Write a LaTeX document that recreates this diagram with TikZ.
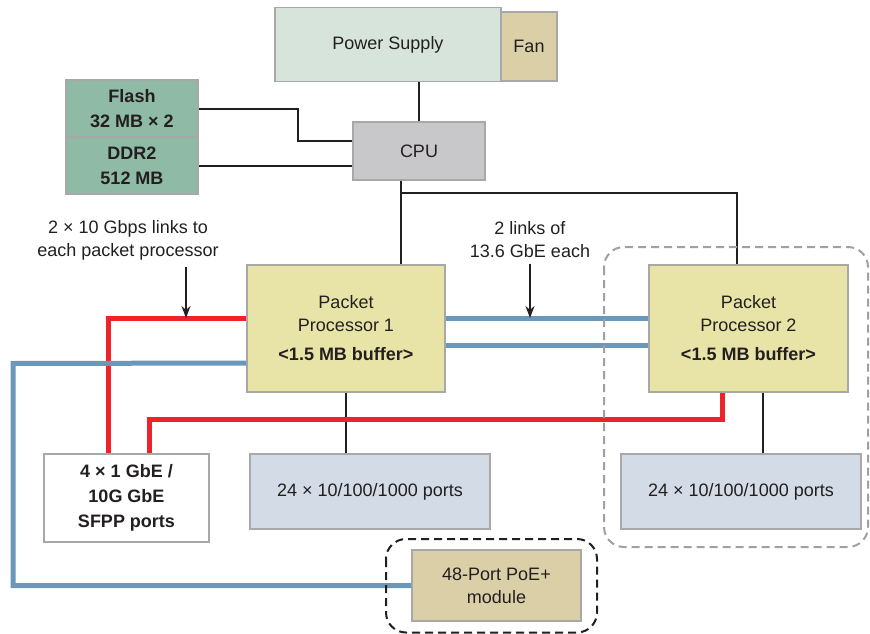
\documentclass[tikz,border=0pt]{standalone}
\usepackage{fontspec}
\setmainfont{Liberation Sans}
\usetikzlibrary{arrows.meta,calc}

\definecolor{txt}{RGB}{35,31,32}
\definecolor{edge}{RGB}{168,168,168}
\definecolor{psufill}{RGB}{215,228,220}
\definecolor{fanfill}{RGB}{219,207,168}
\definecolor{memfill}{RGB}{143,186,166}
\definecolor{cpufill}{RGB}{200,200,202}
\definecolor{ppfill}{RGB}{232,228,168}
\definecolor{portfill}{RGB}{210,219,230}
\definecolor{linkblue}{RGB}{106,151,186}
\definecolor{linkred}{RGB}{238,34,41}
\definecolor{grpgray}{RGB}{160,160,160}

\tikzset{
  box/.style={draw=edge, line width=1.5pt, inner sep=0pt, align=center, text=txt,
    font=\fontsize{18}{23}\selectfont},
  wire/.style={draw=txt, line width=2pt},
  bluelink/.style={draw=linkblue, line width=5pt},
  redlink/.style={draw=linkred, line width=5pt},
  note/.style={align=center, text=txt, font=\fontsize{18}{23}\selectfont},
  grp/.style={dash pattern=on 8pt off 5pt, line width=2pt, rounded corners=20pt},
  pointer/.style={draw=txt, line width=1.5pt, -{Stealth[length=12pt,width=9pt]}}
}

\begin{document}
\begin{tikzpicture}[x=1pt,y=-1pt]
\useasboundingbox (0,0) rectangle (870,634);

\node[box, fill=psufill, minimum width=226pt, minimum height=74pt] (psu) at (388,44.5) {Power Supply};
\node[box, fill=fanfill, minimum width=56pt, minimum height=69pt] (fan) at (529,46.5) {Fan};
\node[box, fill=memfill, minimum width=132pt, minimum height=57pt] (flash) at (132,108.5) {\bfseries Flash\\[2pt]\bfseries 32 MB × 2};
\node[box, fill=memfill, minimum width=132pt, minimum height=57pt] (ddr) at (132,165.5) {\bfseries DDR2\\[2pt]\bfseries 512 MB};
\node[box, fill=cpufill, minimum width=132pt, minimum height=58pt] (cpu) at (419,151) {CPU};

\node[box, fill=ppfill, minimum width=198pt, minimum height=127pt] (pp1) at (346,328.5) {Packet\\Processor 1\\[6pt]\bfseries <1.5 MB buffer>};
\node[box, fill=ppfill, minimum width=199pt, minimum height=127pt] (pp2) at (748.5,328.5) {Packet\\Processor 2\\[6pt]\bfseries <1.5 MB buffer>};

\node[box, fill=white, minimum width=165pt, minimum height=88pt] (sfpp) at (126.5,498) {\bfseries 4 × 1 GbE /\\[2pt]\bfseries 10G GbE\\[2pt]\bfseries SFPP ports};
\node[box, fill=portfill, minimum width=240pt, minimum height=75pt] (ports1) at (370,491.5) {24 × 10/100/1000 ports};
\node[box, fill=portfill, minimum width=240pt, minimum height=75pt] (ports2) at (741,491.5) {24 × 10/100/1000 ports};
\node[box, fill=fanfill, minimum width=169pt, minimum height=71pt] (poe) at (496.5,585.5) {48-Port PoE+\\module};

\node[note] (uplinks) at (128,240) {2 × 10 Gbps links to\\each packet processor};
\node[note] (interlinks) at (530,240) {2 links of\\13.6 GbE each};

% control wiring
\draw[wire] (cpu.north) -- (cpu.north |- psu.south);
\draw[wire] (flash.east) -- ++(99,0) |- ([yshift=10pt]cpu.west);
\draw[wire] (ddr.east) -- (cpu.west |- ddr.east);
\coordinate (split) at ($(cpu.south)+(-18,12)$);
\draw[wire] ([xshift=-18pt]cpu.south) -- ([xshift=-18pt]cpu.south |- pp1.north);
\draw[wire] (split) -| ([xshift=-11.5pt]pp2.north);
\draw[wire] (pp1.south) -- (pp1.south |- ports1.north);
\draw[wire] ([xshift=14.5pt]pp2.south) -- ([xshift=14.5pt]pp2.south |- ports2.north);

% data links
\draw[bluelink] ([yshift=10.5pt]pp1.east) -- ([yshift=10.5pt]pp2.west);
\draw[bluelink] ([yshift=-16.5pt]pp1.east) -- ([yshift=-16.5pt]pp2.west);
\draw[redlink] ([yshift=10.5pt]pp1.west) -| ([xshift=-18.5pt]sfpp.north);
\draw[redlink] ([xshift=22.5pt]sfpp.north) -- ++(0,-34) -| ([xshift=-26.5pt]pp2.south);
\draw[bluelink] ([yshift=-34.5pt]pp1.west) -- (13,363.5) |- (poe.west);

% callouts
\coordinate (uptip) at (186,318);
\coordinate (intertip) at (530,318);
\draw[pointer] (uplinks.south -| uptip) ++(0,4) -- (uptip);
\draw[pointer] (interlinks.south) ++(0,2) -- (intertip);

% groups
\draw[grp, draw=txt] (386,539) rectangle (597,632.5);
\draw[grp, draw=grpgray] (604,247) rectangle (868,547);
\end{tikzpicture}
\end{document}
